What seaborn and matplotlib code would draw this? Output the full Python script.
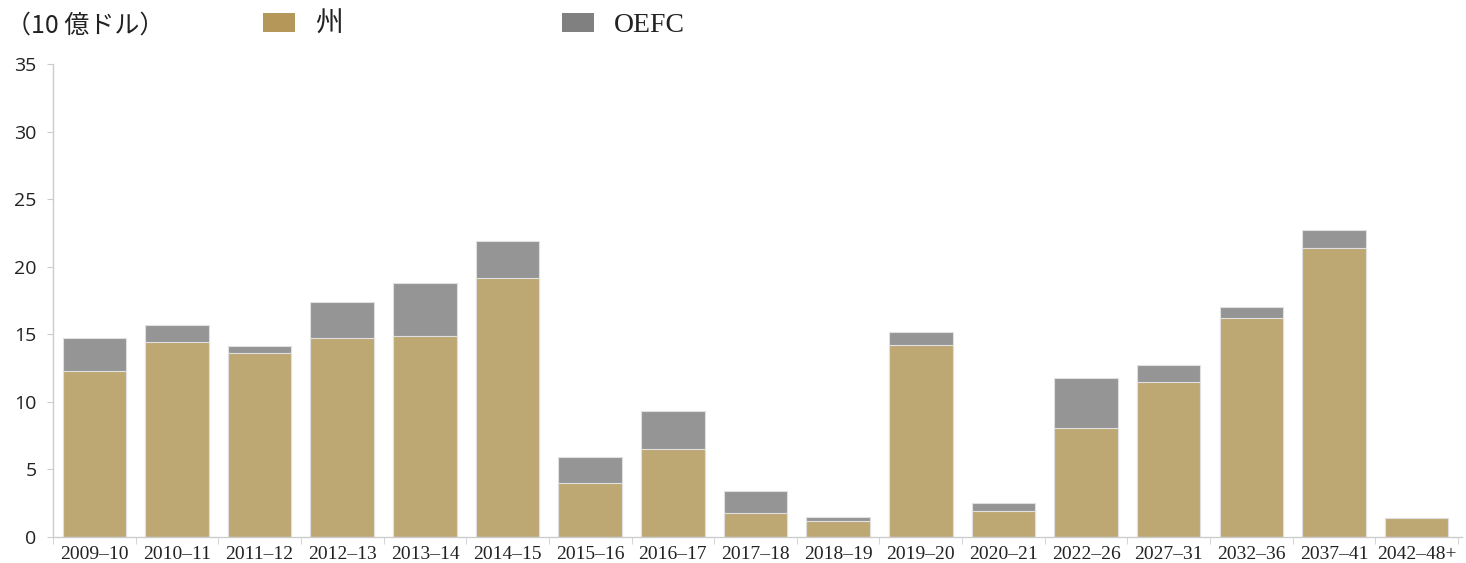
import matplotlib
matplotlib.use("Agg")
import matplotlib.pyplot as plt
import seaborn as sns
import numpy as np
import pandas as pd
from matplotlib.patches import Patch

# data (10億ドル)
years = ["2009–10", "2010–11", "2011–12", "2012–13", "2013–14", "2014–15",
         "2015–16", "2016–17", "2017–18", "2018–19", "2019–20", "2020–21",
         "2022–26", "2027–31", "2032–36", "2037–41", "2042–48+"]
state = [12.3, 14.4, 13.6, 14.7, 14.9, 19.2, 4.0, 6.5, 1.8, 1.2, 14.2, 1.9,
         8.1, 11.5, 16.2, 21.4, 1.4]
oefc = [2.4, 1.3, 0.5, 2.7, 3.9, 2.7, 1.9, 2.8, 1.6, 0.3, 1.0, 0.6,
        3.7, 1.2, 0.8, 1.3, 0.0]

df = pd.DataFrame({"year": years, "state": state, "oefc": oefc})
df["total"] = df["state"] + df["oefc"]

sns.set_style("white")
plt.rcParams["font.family"] = ["Noto Sans CJK JP", "DejaVu Sans"]

gold = "#bda874"
grey = "#959595"

fig = plt.figure(figsize=(14.66, 5.63), dpi=100)
ax = fig.add_axes([0.0362, 0.0462, 0.9611, 0.8401])

sns.barplot(data=df, x="year", y="total", color=grey, width=0.77,
            edgecolor="#e0e0e0", linewidth=0.8, ax=ax, saturation=1)
sns.barplot(data=df, x="year", y="state", color=gold, width=0.77,
            edgecolor="#e0e0e0", linewidth=0.8, ax=ax, saturation=1)

ax.set_xlim(-0.5, len(years) - 0.45)
ax.set_ylim(0, 35)
ax.set_yticks(np.arange(0, 36, 5))
ax.set_xlabel("")
ax.set_ylabel("")

for s in ["top", "right"]:
    ax.spines[s].set_visible(False)
for s in ["left", "bottom"]:
    ax.spines[s].set_color("#cccccc")
    ax.spines[s].set_linewidth(1.0)

ax.tick_params(axis="y", left=True, length=4, color="#cccccc", pad=8,
               labelsize=14, labelcolor="#222222")
ax.tick_params(axis="x", bottom=False, pad=3)
for lab in ax.get_yticklabels():
    lab.set_fontfamily("Open Sans")
for lab in ax.get_xticklabels():
    lab.set_fontfamily("Liberation Serif")
    lab.set_fontsize(14)
    lab.set_color("#222222")

# ticks between categories
ax.set_xticks(np.arange(-0.5, len(years), 1.0), minor=True)
ax.tick_params(axis="x", which="minor", bottom=True, length=5, color="#cccccc")

fig.text(0.004, 0.955, "（10 億ドル）", fontsize=18, va="center", ha="left",
         color="#222222")

handles = [Patch(facecolor="#b5975a", edgecolor="none"),
           Patch(facecolor="#808080", edgecolor="none")]
leg = fig.legend(handles, ["州", "OEFC"], ncol=2, loc="center left",
                 bbox_to_anchor=(263 / 1466, 0.955), frameon=False, fontsize=20,
                 handlelength=1.15, handleheight=0.7, handletextpad=0.72,
                 columnspacing=7.9, borderaxespad=0, borderpad=0)
for t in leg.get_texts():
    t.set_fontfamily(["Liberation Serif", "Noto Sans CJK JP"])
    t.set_color("#222222")

fig.savefig("out.png", dpi=100)
